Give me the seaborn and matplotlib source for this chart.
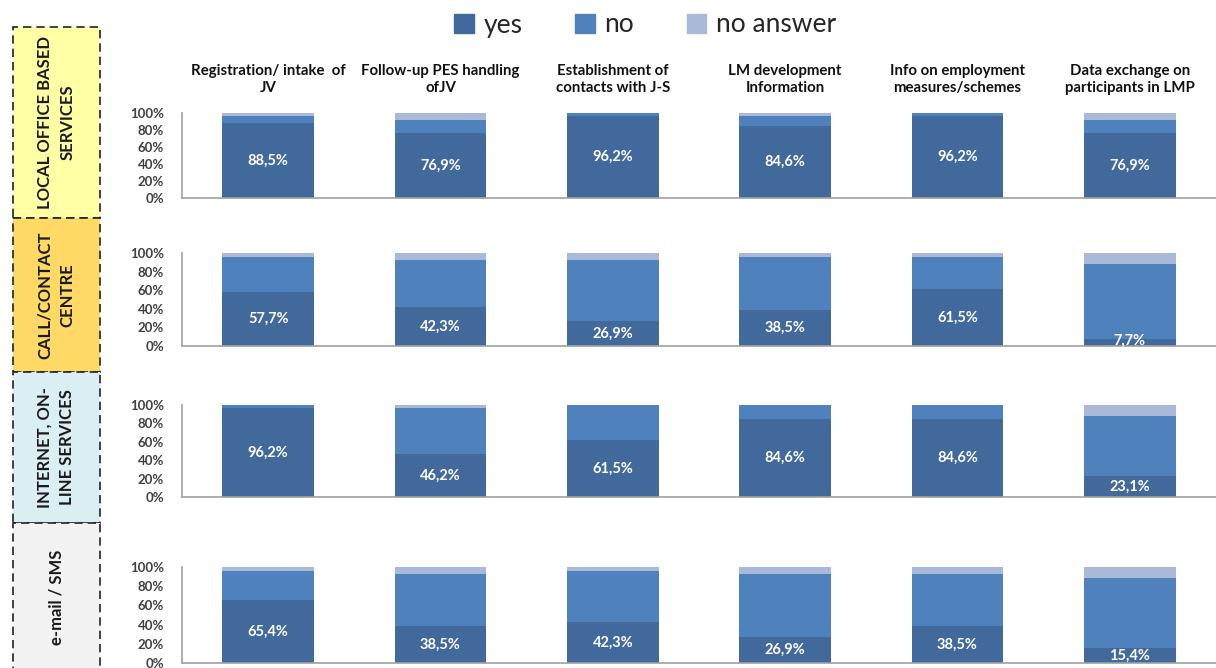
import numpy as np
import pandas as pd
import matplotlib
matplotlib.use("Agg")
import matplotlib.pyplot as plt
from matplotlib.patches import Rectangle, Patch
import seaborn as sns

sns.set_style("white")
plt.rcParams['font.family'] = ['Lato', 'DejaVu Sans']

categories = ["Registration/ intake  of\nJV", "Follow-up PES handling\nofJV",
              "Establishment of\ncontacts with J-S", "LM development\nInformation",
              "Info on employment\nmeasures/schemes", "Data exchange on\nparticipants in LMP"]
channels = ["LOCAL OFFICE BASED\nSERVICES", "CALL/CONTACT\nCENTRE",
            "INTERNET, ON-\nLINE SERVICES", "e-mail / SMS"]
series = ["yes", "no", "no answer"]

yes_local = [88.5, 76.9, 96.2, 84.6, 96.2, 76.9]
no_local = [7.7, 15.4, 3.8, 11.5, 3.8, 15.4]
na_local = [3.8, 7.7, 0.0, 3.8, 0.0, 7.7]

yes_call = [57.7, 42.3, 26.9, 38.5, 61.5, 7.7]
no_call = [38.5, 50.0, 65.4, 57.7, 34.6, 80.8]
na_call = [3.8, 7.7, 7.7, 3.8, 3.8, 11.5]

yes_net = [96.2, 46.2, 61.5, 84.6, 84.6, 23.1]
no_net = [3.8, 50.0, 38.5, 15.4, 15.4, 65.4]
na_net = [0.0, 3.8, 0.0, 0.0, 0.0, 11.5]

yes_mail = [65.4, 38.5, 42.3, 26.9, 38.5, 15.4]
no_mail = [30.8, 53.8, 53.8, 65.4, 53.8, 73.1]
na_mail = [3.8, 7.7, 3.8, 7.7, 7.7, 11.5]

rows = [(yes_local, no_local, na_local), (yes_call, no_call, na_call),
        (yes_net, no_net, na_net), (yes_mail, no_mail, na_mail)]

c_yes, c_no, c_na = "#41699B", "#4F81BD", "#AAB9D8"
box_colors = ["#FFFFA6", "#FFD966", "#DBEEF4", "#F2F2F2"]

W, H = 1216, 668
fig = plt.figure(figsize=(W / 100, H / 100), dpi=100)

ax_rows = [(113, 198), (253, 346), (405, 497), (567, 663)]
ax_left, ax_right = 182, 1216
box_rows = [(27, 218), (218, 372), (372, 523), (523, 672)]

for i, ((yv, nv, av), (top, bot)) in enumerate(zip(rows, ax_rows)):
    ax = fig.add_axes([ax_left / W, 1 - bot / H, (ax_right - ax_left) / W, (bot - top) / H])
    df = pd.DataFrame({"cat": categories, "yes": yv, "no": nv, "na": av})
    df["c2"] = df["yes"] + df["no"]
    df["c3"] = df["c2"] + df["na"]
    sns.barplot(data=df, x="cat", y="c3", color=c_na, width=0.53, ax=ax,
                saturation=1, linewidth=0)
    sns.barplot(data=df, x="cat", y="c2", color=c_no, width=0.53, ax=ax,
                saturation=1, linewidth=0)
    sns.barplot(data=df, x="cat", y="yes", color=c_yes, width=0.53, ax=ax,
                saturation=1, linewidth=0)
    for j, v in enumerate(yv):
        ypos = max(v / 2, 6)
        ax.text(j, ypos, f"{v:.1f}%".replace(".", ","), ha="center", va="center",
                color="white", fontsize=10.5, fontweight="bold")
    ax.set_ylim(0, 100)
    ax.set_xlim(-0.5, 5.5)
    ax.set_yticks([0, 20, 40, 60, 80, 100])
    ax.set_yticklabels([f"{t}%" for t in [0, 20, 40, 60, 80, 100]],
                       fontsize=9.5, fontweight="bold", color="#404040")
    ax.set_xticks([])
    ax.set_xticks(np.arange(0.5, 5.5, 1), minor=True)
    ax.tick_params(axis="x", which="minor", length=4, color="#A0A0A0", direction="out")
    ax.tick_params(axis="y", length=4, color="#A0A0A0", direction="out", pad=9)
    ax.set_xlabel("")
    ax.set_ylabel("")
    for s in ["top", "right"]:
        ax.spines[s].set_visible(False)
    for s in ["left", "bottom"]:
        ax.spines[s].set_color("#A0A0A0")
        ax.spines[s].set_linewidth(1.2)
    ax.set_facecolor("none")
    if i == 0:
        for j, c in enumerate(categories):
            ax.text(j, 1.0 + 18 / (bot - top), c, transform=ax.get_xaxis_transform(),
                    ha="center", va="bottom", fontsize=10.8, fontweight="bold",
                    color="#111111", linespacing=1.3)

for (btop, bbot), col, lab in zip(box_rows, box_colors, channels):
    rect = Rectangle((13 / W, 1 - bbot / H), 87 / W, (bbot - btop) / H,
                     transform=fig.transFigure, facecolor=col, edgecolor="#222222",
                     linestyle=(0, (5, 3)), linewidth=1.2, clip_on=False)
    fig.patches.append(rect)
    fig.text(56 / W, 1 - (btop + bbot) / 2 / H, lab, rotation=90, ha="center",
             va="center", fontsize=12, fontweight="bold", color="#1a1a1a",
             linespacing=1.5)

handles = [Patch(color=c_yes), Patch(color=c_no), Patch(color=c_na)]
fig.legend(handles, series, loc="center", bbox_to_anchor=(645 / W, 1 - 25 / H),
           ncol=3, frameon=False, fontsize=19, handlelength=0.75, handleheight=0.75,
           handletextpad=0.35, columnspacing=2.0)

fig.savefig("out.png", dpi=100)
